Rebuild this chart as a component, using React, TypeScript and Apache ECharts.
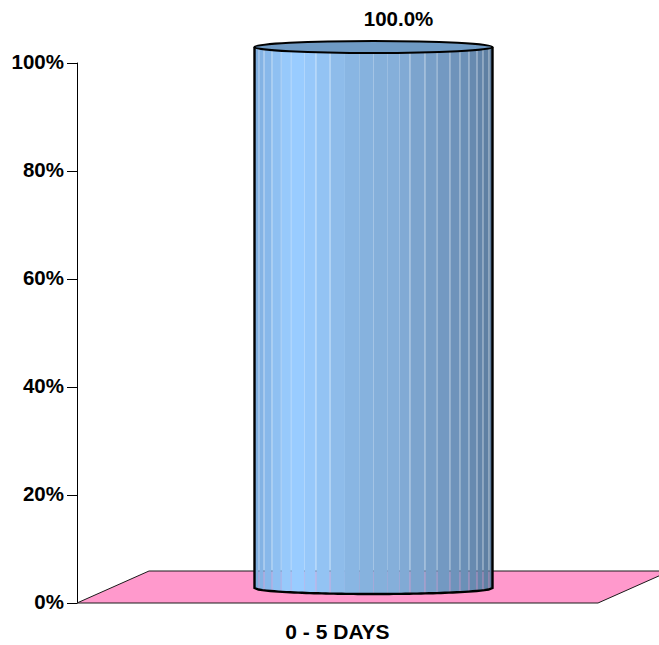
import React, { useEffect, useRef } from "react";
import * as echarts from "echarts";

const categories = ["0 - 5 DAYS"];
const shares = [100];
const yTicks = [0, 20, 40, 60, 80, 100];

const FONT = '"Liberation Sans", Arial, sans-serif';
const DEPTH_X = 72;
const DEPTH_Y = 32;
const CYL_WIDTH = 238;
const CYL_RY = 6;

// Vertical facets of the cylinder: right edge of each facet (0..1 across) and its colour.
const facetStops = [
  0.02, 0.042, 0.075, 0.115, 0.157, 0.21, 0.26, 0.32, 0.38, 0.44, 0.5, 0.56, 0.61, 0.655, 0.718, 0.77,
  0.823, 0.865, 0.903, 0.937, 0.962, 0.987, 1,
];
const facetColors = [
  "#7FAEDF", "#84B3E4", "#88B8EA", "#8FC0F2", "#97C9FB", "#99CCFF", "#97C8FA", "#93C3F3", "#8EBCEA", "#89B6E3",
  "#86B2DE", "#85B0DB", "#85AFDA", "#81AAD5", "#7CA4CE", "#789FC8", "#7399C2", "#6E93BB", "#6B90B7", "#678AB0",
  "#6385AA", "#5F80A3", "#5C7C9E",
];
// Facets that are separated by a visible seam, where the backdrop shows through.
const seamOpacity = 0.15;
const seamAfter = new Set([0, 1, 2, 3, 4, 6, 7, 13, 14, 15, 16, 17, 18, 19, 20, 21]);

function renderFloor(params: any, api: any) {
  const cs = params.coordSys;
  const [x0, y0] = [cs.x, cs.y + cs.height];
  const x1 = cs.x + cs.width;
  return {
    type: "polygon",
    shape: {
      points: [
        [x0, y0],
        [x0 + DEPTH_X, y0 - DEPTH_Y],
        [x1 + DEPTH_X, y0 - DEPTH_Y],
        [x1, y0],
      ],
    },
    style: { fill: "#FF99CC", stroke: "#1a1a1a", lineWidth: 1 },
  };
}

function renderCylinder(params: any, api: any) {
  const base = api.coord([api.value(0), 0]);
  const top = api.coord([api.value(0), api.value(1)]);
  const cx = base[0] + DEPTH_X / 2;
  const yBase = base[1] - DEPTH_Y / 2;
  const yTop = top[1] - DEPTH_Y / 2;
  const rx = CYL_WIDTH / 2;
  const left = cx - rx;
  const bottomAt = (x: number) => {
    const t = (x - cx) / rx;
    return yBase + 1 + CYL_RY * Math.sqrt(Math.max(0, 1 - t * t));
  };
  const children: any[] = [];
  let prev = 0;
  facetStops.forEach((stop, i) => {
    const xa = left + prev * CYL_WIDTH;
    const xb = left + stop * CYL_WIDTH;
    const seam = seamAfter.has(i);
    const solidEnd = seam ? xb - 1 : xb;
    const band = (a: number, b: number, opacity: number) => {
      const pts: number[][] = [[a, yTop], [b, yTop]];
      const n = 6;
      for (let k = n; k >= 0; k--) {
        const x = a + ((b - a) * k) / n;
        pts.push([x, bottomAt(x)]);
      }
      children.push({
        type: "polygon",
        shape: { points: pts },
        style: { fill: facetColors[i], opacity },
      });
    };
    band(xa, solidEnd, 1);
    if (seam) band(solidEnd, xb, 1 - seamOpacity);
    prev = stop;
  });
  const outline = "#000";
  // Side walls and front rim
  const rim: number[][] = [[left, yTop], [left, yBase + 1]];
  for (let k = 0; k <= 60; k++) {
    const x = left + (CYL_WIDTH * k) / 60;
    rim.push([x, bottomAt(x)]);
  }
  rim.push([left + CYL_WIDTH, yTop]);
  children.push({
    type: "polyline",
    shape: { points: rim },
    style: { fill: "none", stroke: outline, lineWidth: 2.4 },
  });
  // Top cap
  children.push({
    type: "ellipse",
    shape: { cx, cy: yTop, rx, ry: CYL_RY },
    style: { fill: "#6F9AC4", stroke: outline, lineWidth: 2.2 },
  });
  // Value label
  children.push({
    type: "text",
    x: cx + 25,
    y: yTop - 29,
    style: {
      text: api.value(1).toFixed(1) + "%",
      font: `bold 20.5px ${FONT}`,
      fill: "#000",
      align: "center",
      verticalAlign: "middle",
    },
  });
  return { type: "group", children };
}

export default function App() {
  const ref = useRef<HTMLDivElement>(null);
  useEffect(() => {
    const chart = echarts.init(ref.current!, undefined, { renderer: "svg" });
    chart.setOption({
      animation: false,
      backgroundColor: "#fff",
      grid: { left: 77, top: 63, width: 521, height: 540 },
      xAxis: {
        type: "category",
        data: categories,
        axisLine: { show: false },
        axisTick: { show: false },
        axisLabel: { color: "#000", fontFamily: FONT, fontWeight: "bold", fontSize: 21, margin: 18 },
      },
      yAxis: {
        type: "value",
        min: yTicks[0],
        max: yTicks[yTicks.length - 1],
        interval: yTicks[1] - yTicks[0],
        axisLine: { show: true, lineStyle: { color: "#000", width: 1 } },
        axisTick: { show: true, length: 10, lineStyle: { color: "#000", width: 1 } },
        splitLine: { show: false },
        axisLabel: {
          color: "#000",
          fontFamily: FONT,
          fontWeight: "bold",
          fontSize: 20.5,
          margin: 13,
          verticalAlign: "bottom",
          lineHeight: 3,
          formatter: "{value}%",
        },
      },
      series: [
        {
          type: "custom",
          name: "floor",
          renderItem: renderFloor,
          data: [[0, 0]],
          silent: true,
          z: 1,
        },
        {
          type: "custom",
          name: "share",
          renderItem: renderCylinder,
          encode: { x: 0, y: 1 },
          data: shares.map((v, i) => [i, v]),
          z: 2,
        },
      ],
    });
    return () => chart.dispose();
  }, []);
  return <div ref={ref} style={{ position: "absolute", left: 0, top: 0, width: 659, height: 645 }} />;
}
